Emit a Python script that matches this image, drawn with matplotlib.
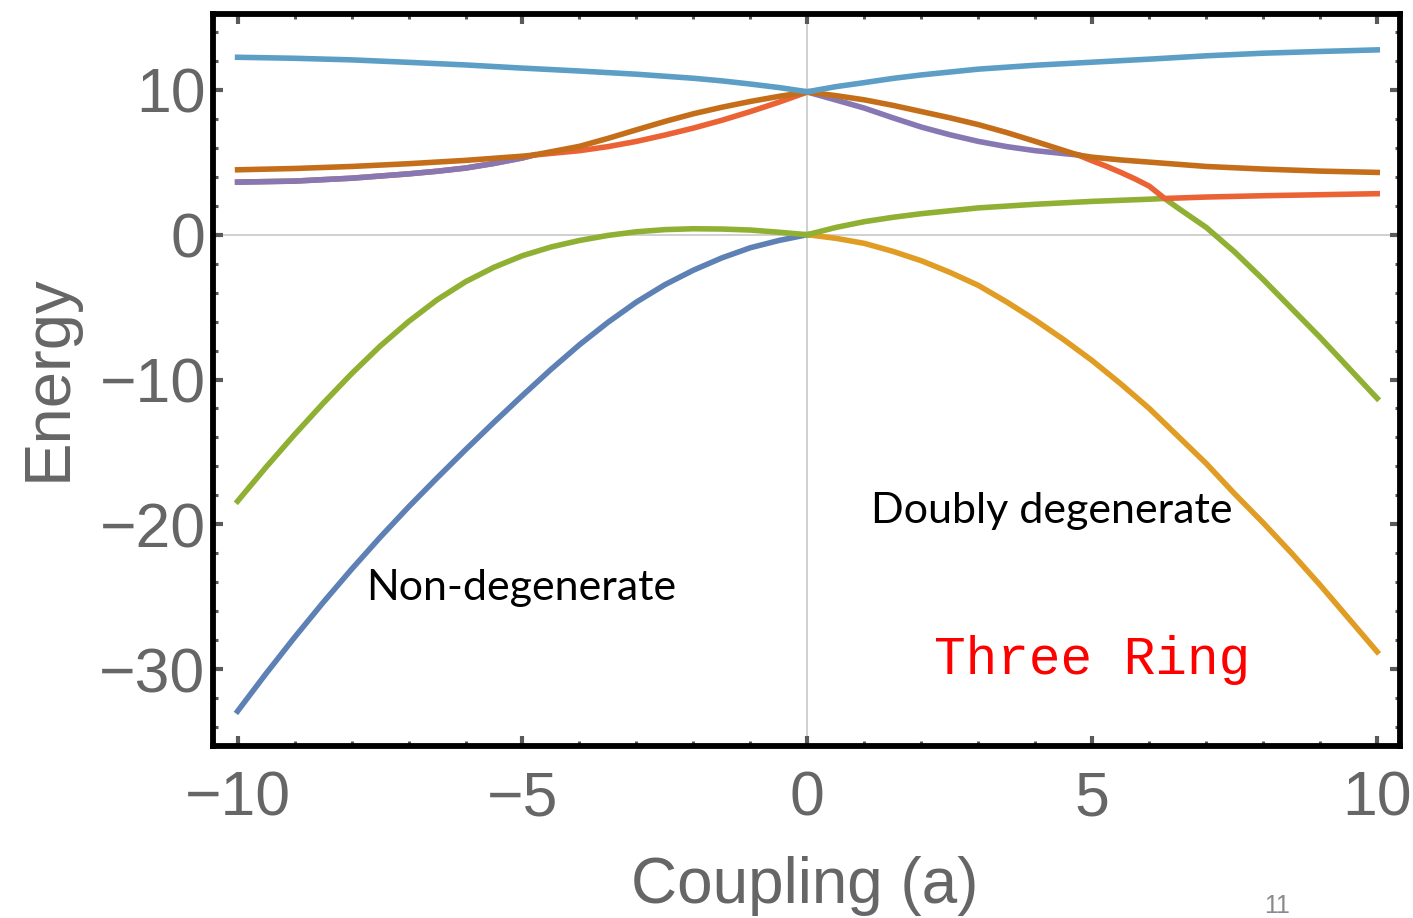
import matplotlib
matplotlib.use("Agg")
import matplotlib.pyplot as plt
from matplotlib.ticker import MultipleLocator

# eigenvalue curves (energy vs coupling a)
blue_x = [-10, -9.5, -9, -8.5, -8, -7.5, -7, -6.5, -6, -5.5, -5,
          -4.5, -4, -3.5, -3, -2.5, -2, -1.5, -1, -0.5, 0]
blue_y = [-32.9, -30.3, -27.8, -25.4, -23.1, -20.9, -18.8, -16.8, -14.85, -12.95, -11.1,
          -9.3, -7.6, -6.05, -4.65, -3.45, -2.45, -1.6, -0.9, -0.4, 0]

orange_x = [0, 0.5, 1, 1.5, 2, 2.5, 3, 3.5, 4, 4.5, 5,
            5.5, 6, 6.5, 7, 7.5, 8, 8.5, 9, 9.5, 10]
orange_y = [0, -0.25, -0.6, -1.15, -1.8, -2.6, -3.5, -4.65, -5.9, -7.25, -8.7,
            -10.3, -12.0, -13.9, -15.8, -17.9, -19.9, -22.0, -24.2, -26.5, -28.8]

green_left_x = [-10, -9.5, -9, -8.5, -8, -7.5, -7, -6.5, -6, -5.5, -5,
                -4.5, -4, -3.5, -3, -2.5, -2, -1.5, -1, -0.5, 0]
green_left_y = [-18.4, -16.05, -13.8, -11.65, -9.6, -7.7, -6.0, -4.5, -3.25, -2.25, -1.45,
                -0.85, -0.4, -0.05, 0.2, 0.35, 0.41, 0.39, 0.32, 0.17, 0]
green_right_x = [0, 0.5, 1, 1.5, 2, 3, 4, 5, 6, 6.27, 6.5, 7, 7.5, 8, 8.5, 9, 9.5, 10]
green_right_y = [0, 0.5, 0.9, 1.2, 1.45, 1.85, 2.1, 2.3, 2.45, 2.5, 1.85, 0.5,
                 -1.2, -3.1, -5.1, -7.1, -9.2, -11.3]

red_left_x = [-10, -9, -8, -7, -6.5, -6, -5.5, -5, -4.8, -4, -3.5, -3,
              -2.5, -2, -1.5, -1, -0.5, 0]
red_left_y = [3.63, 3.7, 3.9, 4.2, 4.38, 4.6, 4.92, 5.3, 5.5, 5.8, 6.08, 6.44,
              6.88, 7.36, 7.9, 8.5, 9.15, 9.85]
red_right_x = [4.75, 5, 5.25, 5.5, 5.75, 6, 6.27, 7, 8, 9, 10]
red_right_y = [5.5, 5.1, 4.72, 4.3, 3.85, 3.35, 2.5, 2.6, 2.69, 2.76, 2.83]

purple_left_x = [-10, -9, -8, -7, -6.5, -6, -5.5, -5, -4.8]
purple_left_y = [3.63, 3.7, 3.9, 4.2, 4.38, 4.6, 4.92, 5.3, 5.5]
purple_right_x = [0, 0.5, 1, 1.5, 2, 2.5, 3, 3.5, 4, 4.75]
purple_right_y = [9.85, 9.3, 8.74, 8.07, 7.43, 6.9, 6.44, 6.08, 5.8, 5.5]

brown_x = [-10, -9, -8, -7, -6, -5, -4.8, -4, -3.5, -3, -2.5, -2, -1.5, -1, -0.5, 0,
           0.5, 1, 1.5, 2, 2.5, 3, 3.5, 4, 4.75, 5, 5.5, 6, 7, 8, 9, 10]
brown_y = [4.48, 4.57, 4.71, 4.9, 5.13, 5.42, 5.5, 6.1, 6.65, 7.24, 7.82, 8.35, 8.8, 9.2, 9.55, 9.85,
           9.6, 9.31, 8.93, 8.5, 8.07, 7.6, 7.05, 6.44, 5.5, 5.35, 5.16, 5.01, 4.71, 4.53, 4.39, 4.3]

lightblue_x = [-10, -9, -8, -7, -6, -5, -4, -3, -2, -1.5, -1, -0.5, 0,
               0.5, 1, 1.5, 2, 3, 4, 5, 6, 7, 8, 9, 10]
lightblue_y = [12.25, 12.18, 12.07, 11.9, 11.72, 11.5, 11.3, 11.08, 10.8, 10.62, 10.4, 10.16, 9.87,
               10.22, 10.5, 10.79, 11.03, 11.43, 11.7, 11.91, 12.12, 12.35, 12.53, 12.65, 12.76]

fig = plt.figure(figsize=(14.13, 9.18), dpi=100)
ax = fig.add_axes([0.1504, 0.1874, 0.8404, 0.7974])

ax.axhline(0, color="#c8c8c8", lw=1.2, zorder=0.5)
ax.axvline(0, color="#c8c8c8", lw=1.2, zorder=0.5)

lw = 4.0
ax.plot(blue_x, blue_y, color="#5E81B5", lw=lw)
ax.plot(orange_x, orange_y, color="#E19C24", lw=lw)
ax.plot(green_left_x, green_left_y, color="#8FB032", lw=lw)
ax.plot(green_right_x, green_right_y, color="#8FB032", lw=lw)
ax.plot(red_left_x, red_left_y, color="#EB6235", lw=lw)
ax.plot(red_right_x, red_right_y, color="#EB6235", lw=lw)
ax.plot(purple_left_x, purple_left_y, color="#8778B3", lw=lw)
ax.plot(purple_right_x, purple_right_y, color="#8778B3", lw=lw)
ax.plot(brown_x, brown_y, color="#C56E1A", lw=lw)
ax.plot(lightblue_x, lightblue_y, color="#5D9EC7", lw=lw)

ax.set_xlim(-10.44, 10.40)
ax.set_ylim(-35.3, 15.24)

ax.xaxis.set_major_locator(MultipleLocator(5))
ax.xaxis.set_minor_locator(MultipleLocator(1))
ax.yaxis.set_major_locator(MultipleLocator(10))
ax.yaxis.set_minor_locator(MultipleLocator(2))

ax.tick_params(which="both", direction="in", top=True, right=True, color="#5a5a5a")
ax.tick_params(which="major", length=7, width=3)
ax.tick_params(which="minor", length=3.5, width=2.2)
ax.tick_params(axis="x", which="major", pad=17)
ax.tick_params(axis="y", which="major", pad=5)

for lab in ax.get_xticklabels() + ax.get_yticklabels():
    lab.set_fontfamily("Liberation Sans")
    lab.set_fontsize(45)
    lab.set_color("#666666")

for sp in ax.spines.values():
    sp.set_linewidth(4.2)
    sp.set_color("black")

ax.set_xlabel("Coupling (a)", fontsize=46, color="#666666", family="Liberation Sans")
ax.xaxis.set_label_coords(0.499, -0.150)
ax.set_ylabel("Energy", fontsize=47, color="#666666", family="Liberation Sans")
ax.yaxis.set_label_coords(-0.113, 0.503)

ax.text(-7.74, -25.2, "Non-degenerate", fontsize=31, family="Lato", color="black")
ax.text(1.12, -19.9, "Doubly degenerate", fontsize=31, family="Lato", color="black")
ax.text(2.23, -30.3, "Three Ring", fontsize=38, family="Liberation Mono", color="#ff0000")

fig.text(1277 / 1413, 1 - 906 / 918, "11", fontsize=18, color="#8a8a8a",
         family="Liberation Sans", ha="center", va="center")

fig.savefig("out.png", dpi=100)
